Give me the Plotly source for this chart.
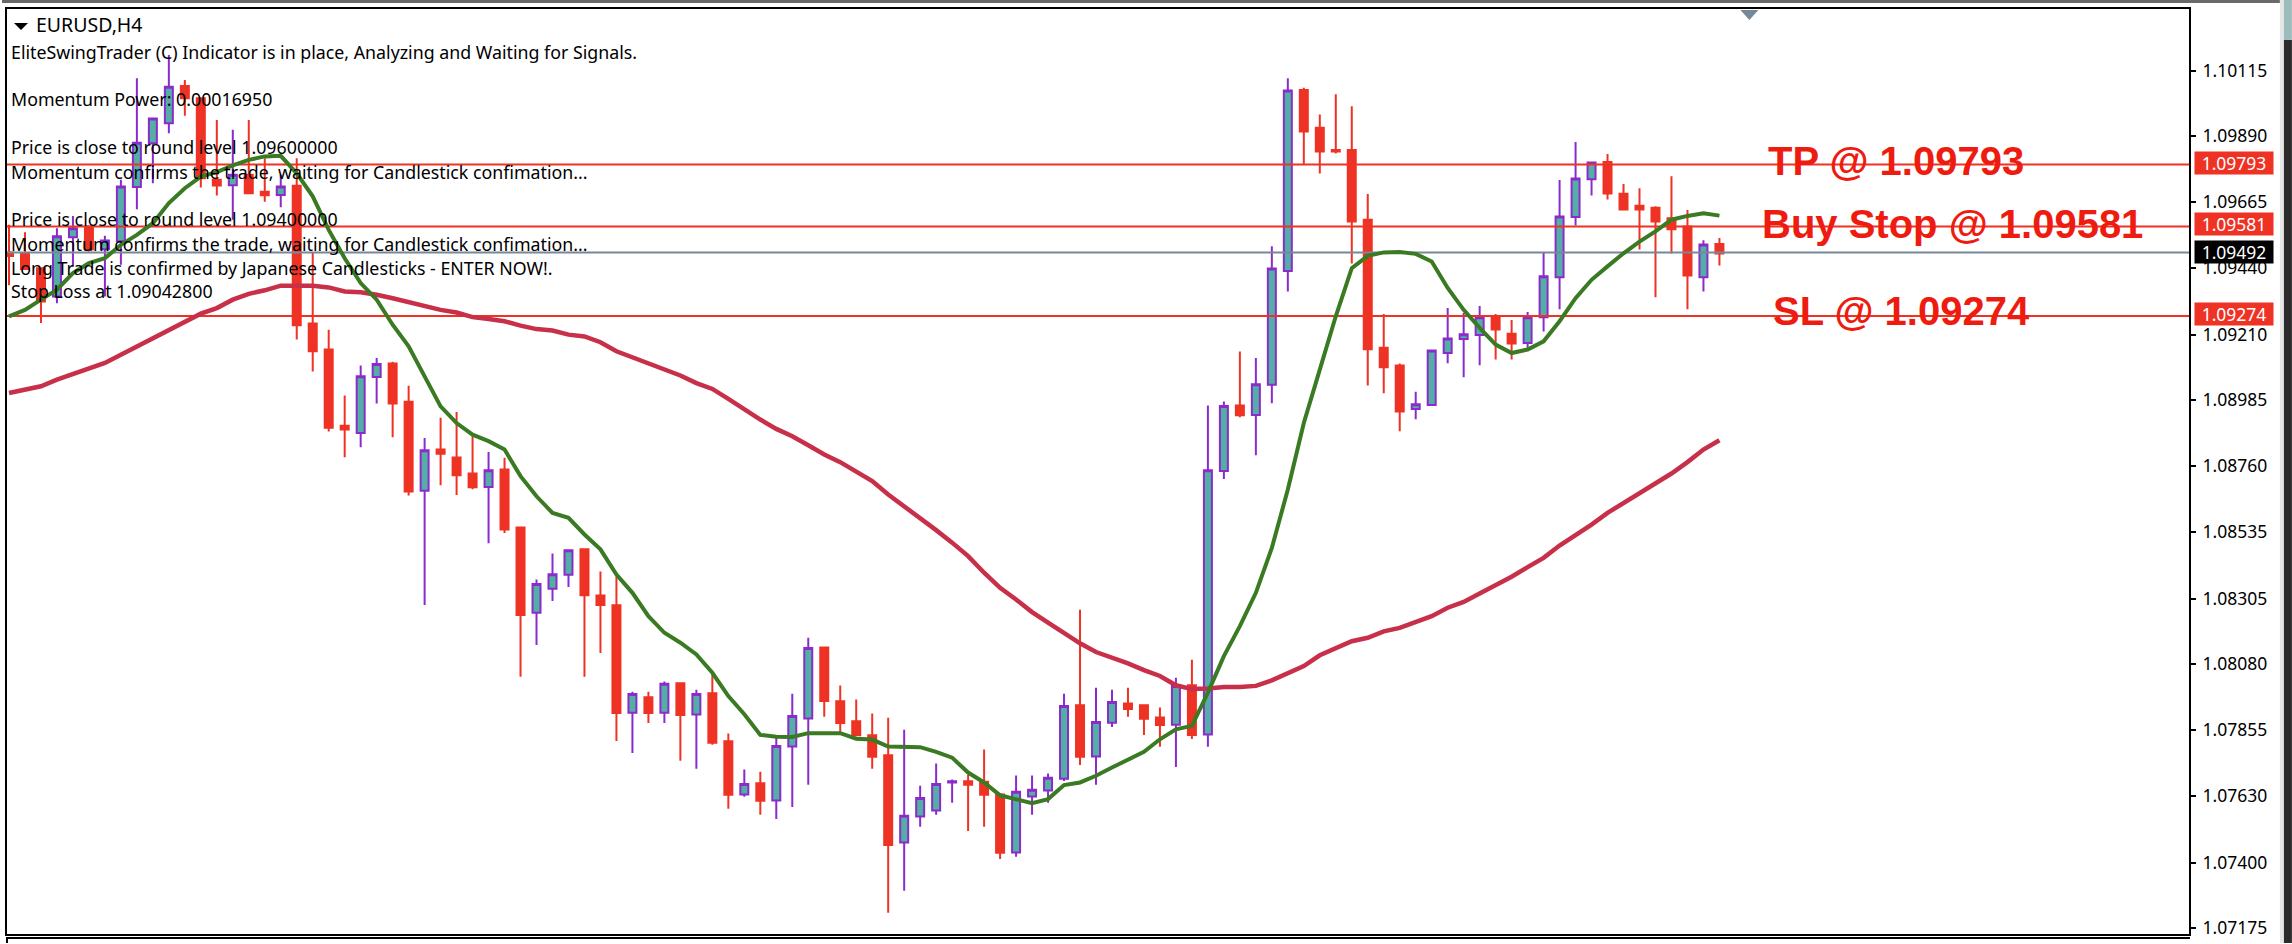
#!/usr/bin/env python3
# -*- coding: utf-8 -*-
"""
EURUSD H4 chart with swing trader levels, redrawn with plotly
"""
import plotly.graph_objects as go

W, H = 2292, 944
L, R, T, B = 5, 2189, 9, 935  # plot frame in page pixels

opens = [
    1.09492, 1.09490, 1.09438, 1.09341, 1.09544, 1.09581, 1.09503, 1.09530, 1.09716, 1.09866,
    1.09935, 1.10062, 1.10020, 1.09741, 1.09722, 1.09758, 1.09700, 1.09689, 1.09720, 1.09248,
    1.09159, 1.08898, 1.08873, 1.09065, 1.09111, 1.08980, 1.08675, 1.08816, 1.08789, 1.08734,
    1.08688, 1.08748, 1.08549, 1.08257, 1.08339, 1.08387, 1.08474, 1.08316, 1.08282, 1.07914,
    1.07967, 1.07914, 1.08015, 1.07908, 1.07981, 1.07816, 1.07634, 1.07672, 1.07613, 1.07798,
    1.07894, 1.08138, 1.07953, 1.07885, 1.07837, 1.07768, 1.07469, 1.07558, 1.07579, 1.07675,
    1.07679, 1.07677, 1.07634, 1.07435, 1.07627, 1.07647, 1.07688, 1.07940, 1.07764, 1.07880,
    1.07946, 1.07940, 1.07898, 1.07873, 1.08008, 1.07839, 1.08743, 1.08967, 1.08935, 1.09038,
    1.09428, 1.10049, 1.09919, 1.09843, 1.09843, 1.09604, 1.09165, 1.09104, 1.08955, 1.08969,
    1.09147, 1.09195, 1.09209, 1.09270, 1.09213, 1.09181, 1.09270, 1.09407, 1.09613, 1.09743,
    1.09802, 1.09693, 1.09652, 1.09645, 1.09609, 1.09581, 1.09407, 1.09521,
]
highs = [
    1.09587, 1.09561, 1.09438, 1.09575, 1.09617, 1.09581, 1.09549, 1.09741, 1.10089, 1.09951,
    1.10169, 1.10083, 1.10020, 1.09946, 1.09912, 1.09946, 1.09815, 1.09758, 1.09815, 1.09493,
    1.09227, 1.09001, 1.09104, 1.09130, 1.09117, 1.09035, 1.08856, 1.08925, 1.08945, 1.08862,
    1.08808, 1.08788, 1.08549, 1.08371, 1.08460, 1.08471, 1.08474, 1.08398, 1.08382, 1.07986,
    1.07986, 1.08021, 1.08015, 1.07993, 1.08046, 1.07843, 1.07719, 1.07712, 1.07829, 1.07979,
    1.08171, 1.08138, 1.08007, 1.07959, 1.07911, 1.07897, 1.07856, 1.07664, 1.07740, 1.07685,
    1.07701, 1.07788, 1.07634, 1.07699, 1.07699, 1.07706, 1.07979, 1.08267, 1.08000, 1.07993,
    1.08000, 1.07940, 1.07932, 1.08034, 1.08096, 1.08967, 1.08981, 1.09152, 1.09130, 1.09513,
    1.10089, 1.10056, 1.09965, 1.10034, 1.09993, 1.09692, 1.09281, 1.09111, 1.09014, 1.09156,
    1.09301, 1.09284, 1.09308, 1.09281, 1.09260, 1.09288, 1.09493, 1.09740, 1.09870, 1.09800,
    1.09829, 1.09726, 1.09712, 1.09650, 1.09753, 1.09637, 1.09534, 1.09541,
]
lows = [
    1.09379, 1.09433, 1.09250, 1.09318, 1.09444, 1.09495, 1.09341, 1.09450, 1.09640, 1.09729,
    1.09900, 1.09960, 1.09714, 1.09687, 1.09604, 1.09695, 1.09666, 1.09647, 1.09193, 1.09084,
    1.08878, 1.08790, 1.08824, 1.08974, 1.08858, 1.08659, 1.08283, 1.08694, 1.08660, 1.08680,
    1.08495, 1.08530, 1.08037, 1.08146, 1.08297, 1.08345, 1.08037, 1.08119, 1.07817, 1.07776,
    1.07879, 1.07879, 1.07749, 1.07722, 1.07804, 1.07585, 1.07626, 1.07564, 1.07550, 1.07591,
    1.07667, 1.07900, 1.07845, 1.07837, 1.07722, 1.07228, 1.07304, 1.07523, 1.07564, 1.07605,
    1.07509, 1.07523, 1.07413, 1.07420, 1.07564, 1.07605, 1.07680, 1.07735, 1.07667, 1.07865,
    1.07900, 1.07838, 1.07797, 1.07728, 1.07824, 1.07797, 1.08715, 1.08927, 1.08797, 1.08975,
    1.09358, 1.09792, 1.09762, 1.09831, 1.09454, 1.09036, 1.09009, 1.08879, 1.08920, 1.08969,
    1.09112, 1.09064, 1.09105, 1.09125, 1.09125, 1.09164, 1.09221, 1.09297, 1.09584, 1.09687,
    1.09673, 1.09639, 1.09502, 1.09338, 1.09488, 1.09297, 1.09358, 1.09447,
]
closes = [
    1.09480, 1.09435, 1.09324, 1.09547, 1.09575, 1.09503, 1.09533, 1.09718, 1.09868, 1.09951,
    1.10060, 1.10020, 1.09746, 1.09721, 1.09758, 1.09695, 1.09688, 1.09718, 1.09242, 1.09153,
    1.08891, 1.08885, 1.09067, 1.09109, 1.08974, 1.08672, 1.08814, 1.08802, 1.08728, 1.08687,
    1.08745, 1.08542, 1.08249, 1.08355, 1.08389, 1.08471, 1.08317, 1.08283, 1.07913, 1.07978,
    1.07913, 1.08013, 1.07906, 1.07978, 1.07811, 1.07633, 1.07670, 1.07612, 1.07800, 1.07903,
    1.08136, 1.07954, 1.07879, 1.07837, 1.07763, 1.07461, 1.07561, 1.07622, 1.07670, 1.07679,
    1.07667, 1.07633, 1.07434, 1.07643, 1.07650, 1.07691, 1.07937, 1.07763, 1.07882, 1.07951,
    1.07927, 1.07893, 1.07872, 1.08006, 1.07838, 1.08745, 1.08965, 1.08934, 1.09040, 1.09437,
    1.10047, 1.09906, 1.09838, 1.09838, 1.09598, 1.09160, 1.09098, 1.08947, 1.08971, 1.09156,
    1.09197, 1.09211, 1.09270, 1.09228, 1.09180, 1.09270, 1.09410, 1.09615, 1.09745, 1.09800,
    1.09694, 1.09639, 1.09639, 1.09598, 1.09571, 1.09413, 1.09519, 1.09488,
]
ma_fast = [
    1.09273, 1.09295, 1.09330, 1.09364, 1.09421, 1.09455, 1.09472, 1.09518, 1.09552, 1.09592,
    1.09661, 1.09712, 1.09752, 1.09767, 1.09790, 1.09809, 1.09821, 1.09823, 1.09763, 1.09684,
    1.09569, 1.09472, 1.09387, 1.09330, 1.09244, 1.09170, 1.09067, 1.08964, 1.08907, 1.08867,
    1.08845, 1.08816, 1.08725, 1.08656, 1.08599, 1.08582, 1.08525, 1.08474, 1.08388, 1.08325,
    1.08245, 1.08188, 1.08154, 1.08114, 1.08051, 1.07971, 1.07909, 1.07838, 1.07832, 1.07831,
    1.07844, 1.07844, 1.07844, 1.07825, 1.07822, 1.07798, 1.07797, 1.07796, 1.07780, 1.07760,
    1.07709, 1.07675, 1.07631, 1.07618, 1.07604, 1.07618, 1.07666, 1.07675, 1.07698, 1.07726,
    1.07752, 1.07780, 1.07823, 1.07857, 1.07869, 1.07983, 1.08108, 1.08211, 1.08325, 1.08479,
    1.08679, 1.08907, 1.09090, 1.09273, 1.09438, 1.09480, 1.09492, 1.09493, 1.09487, 1.09461,
    1.09370, 1.09295, 1.09233, 1.09176, 1.09147, 1.09159, 1.09187, 1.09256, 1.09335, 1.09398,
    1.09444, 1.09489, 1.09529, 1.09564, 1.09604, 1.09617, 1.09626, 1.09618,
]
ma_slow = [
    1.09010, 1.09022, 1.09033, 1.09056, 1.09076, 1.09096, 1.09113, 1.09141, 1.09170, 1.09198,
    1.09227, 1.09256, 1.09282, 1.09301, 1.09330, 1.09350, 1.09362, 1.09378, 1.09379, 1.09378,
    1.09372, 1.09358, 1.09355, 1.09347, 1.09335, 1.09321, 1.09307, 1.09295, 1.09286, 1.09270,
    1.09264, 1.09256, 1.09241, 1.09229, 1.09224, 1.09210, 1.09204, 1.09184, 1.09153, 1.09132,
    1.09113, 1.09092, 1.09070, 1.09044, 1.09024, 1.08990, 1.08953, 1.08919, 1.08887, 1.08862,
    1.08831, 1.08799, 1.08773, 1.08742, 1.08708, 1.08662, 1.08622, 1.08582, 1.08540, 1.08497,
    1.08451, 1.08394, 1.08342, 1.08302, 1.08259, 1.08223, 1.08188, 1.08152, 1.08122, 1.08103,
    1.08083, 1.08060, 1.08040, 1.08008, 1.07995, 1.07997, 1.08002, 1.08002, 1.08006, 1.08025,
    1.08049, 1.08074, 1.08111, 1.08137, 1.08159, 1.08171, 1.08193, 1.08205, 1.08226, 1.08245,
    1.08274, 1.08294, 1.08323, 1.08350, 1.08380, 1.08413, 1.08445, 1.08487, 1.08522, 1.08559,
    1.08599, 1.08633, 1.08665, 1.08702, 1.08734, 1.08773, 1.08816, 1.08848,
]
price_ticks = [1.10115, 1.09890, 1.09665, 1.09440, 1.09210, 1.08985, 1.08760,
               1.08535, 1.08305, 1.08080, 1.07855, 1.07630, 1.07400, 1.07175]
tp_level = 1.09793
buy_level = 1.09581
sl_level = 1.09274
bid_level = 1.09492
comment_lines = [
    ("EliteSwingTrader (C) Indicator is in place, Analyzing and Waiting for Signals.", 52),
    ("Momentum Power: 0.00016950", 99),
    ("Price is close to round level 1.09600000", 147),
    ("Momentum confirms the trade, waiting for Candlestick confimation...", 172),
    ("Price is close to round level 1.09400000", 219),
    ("Momentum confirms the trade, waiting for Candlestick confimation...", 244),
    ("Long Trade is confirmed by Japanese Candlesticks - ENTER NOW!.", 268),
    ("Stop Loss at 1.09042800", 291),
]

RED = "#EE3224"
TEAL = "#55AEA5"
PURPLE = "#8A2BCC"
GREEN = "#3A7A22"
CRIMSON = "#C8304A"
SLATE = "#778899"
MT_FONT = "Noto Sans"

bars = list(range(len(closes)))
x_range = [-0.125, 136.375]
y_range = [1.071555, 1.103263]


def px(x):
    return (x - L) / (R - L)


def py(y):
    return (B - y) / (B - T)


def rect(x0, y0, x1, y1, color):
    return dict(type="rect", xref="paper", yref="paper", x0=px(x0), x1=px(x1),
                y0=py(y0), y1=py(y1), fillcolor=color, line_width=0, layer="above")


def level_line(level, color):
    return go.Scatter(x=x_range, y=[level, level], mode="lines", hoverinfo="skip",
                      line=dict(color=color, width=2))


fig = go.Figure()
fig.add_trace(go.Candlestick(
    x=bars, open=opens, high=highs, low=lows, close=closes, whiskerwidth=0,
    increasing=dict(line=dict(color=PURPLE, width=2), fillcolor=TEAL),
    decreasing=dict(line=dict(color=RED, width=2), fillcolor=RED),
))
fig.add_trace(level_line(bid_level, SLATE))
for lvl in [tp_level, buy_level, sl_level]:
    fig.add_trace(level_line(lvl, RED))
fig.add_trace(go.Scatter(x=bars, y=ma_slow, mode="lines", line=dict(color=CRIMSON, width=4.5)))
fig.add_trace(go.Scatter(x=bars, y=ma_fast, mode="lines", line=dict(color=GREEN, width=4)))

annotations = []
# chart comment text
for txt, y in comment_lines:
    annotations.append(dict(text=txt, xref="paper", yref="paper", x=px(7), y=py(y),
                            xanchor="left", yanchor="middle", showarrow=False,
                            font=dict(family=MT_FONT, size=17.8, color="black")))
annotations.append(dict(text="EURUSD,H4", xref="paper", yref="paper", x=px(32), y=py(25),
                        xanchor="left", yanchor="middle", showarrow=False,
                        font=dict(family=MT_FONT, size=19.5, color="black")))
# big level labels
for txt, x, lvl, shift in [("TP @ 1.09793", 1766, tp_level, 4),
                           ("Buy Stop @ 1.09581", 1760, buy_level, 2),
                           ("SL @ 1.09274", 1771, sl_level, 5)]:
    annotations.append(dict(text=txt, xref="paper", yref="y", x=px(x), y=lvl, yshift=shift,
                            xanchor="left", yanchor="middle", showarrow=False,
                            font=dict(family="Liberation Sans", size=40, color="#EE1C10",
                                      weight="bold")))
# price tags on the axis
for lvl, color, shift in [(tp_level, RED, 2), (buy_level, RED, 2),
                          (sl_level, RED, 2), (bid_level, "black", 0)]:
    annotations.append(dict(text="%.5f" % lvl, xref="paper", yref="y", x=px(2194), y=lvl,
                            yshift=shift, xanchor="left", yanchor="middle", showarrow=False,
                            width=78, height=22, bgcolor=color, borderpad=0,
                            font=dict(family=MT_FONT, size=17.5, color="white")))

shapes = [
    rect(0, 0, 2280, 3, "#696969"),
    rect(2280, 0, 2284, 944, "#E6E6E6"),
    rect(2284, 0, 2292, 40, "#9DBDBD"),
    rect(2284, 40, 2292, 944, "#2B2B2B"),
    rect(4, 938, 2190, 940, "black"),
    rect(4, 938, 6, 944, "black"),
    dict(type="path", xref="paper", yref="paper", layer="above", line_width=0, fillcolor=SLATE,
         path="M %f %f L %f %f L %f %f Z" % (px(1740), py(10), px(1758), py(10), px(1749), py(20))),
    dict(type="path", xref="paper", yref="paper", layer="above", line_width=0, fillcolor="black",
         path="M %f %f L %f %f L %f %f Z" % (px(12), py(23), px(26), py(23), px(19), py(30))),
]

fig.update_layout(
    width=W, height=H, autosize=False, showlegend=False,
    boxmode="overlay", boxgap=0.5, boxgroupgap=0,
    margin=dict(l=L, r=W - R, t=T, b=H - B, pad=0),
    paper_bgcolor="white", plot_bgcolor="white",
    annotations=annotations, shapes=shapes,
)
fig.update_xaxes(range=x_range, rangeslider_visible=False, showgrid=False, zeroline=False,
                 showticklabels=False, ticks="", showline=True, linecolor="black",
                 linewidth=2, mirror=True)
fig.update_yaxes(range=y_range, side="right", showgrid=False, zeroline=False,
                 tickvals=price_ticks, ticktext=["%.5f" % t for t in price_ticks],
                 ticks="outside", ticklen=5, tickwidth=2, tickcolor="black",
                 ticklabelstandoff=3, showline=True, linecolor="black", linewidth=2, mirror=True,
                 tickfont=dict(family=MT_FONT, size=17.5, color="black"))

fig.write_html("out.html", config=dict(displayModeBar=False),
               post_script="document.body.style.margin='0';")
